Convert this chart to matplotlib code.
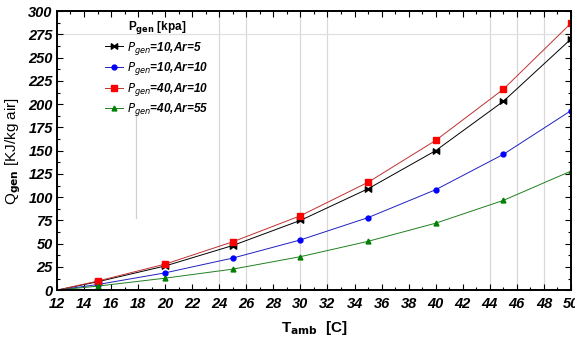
import matplotlib
matplotlib.use("Agg")
import matplotlib.pyplot as plt
from matplotlib.ticker import MultipleLocator

plt.rcParams['font.family'] = ['Liberation Sans', 'DejaVu Sans']

# ambient temperature [C]
t_amb = [12, 15, 20, 25, 30, 35, 40, 45, 50]

# Q_gen [kJ/kg air] for each case
q_10_5 = [0, 9, 26, 48, 75, 109, 150, 203, 270]
q_10_10 = [0, 6, 18.6, 34.5, 54, 78, 108, 146, 193]
q_40_10 = [0, 9.7, 28, 52, 80, 116, 161, 216, 287]
q_40_55 = [0, 4.3, 12.9, 22.6, 36, 52.5, 72, 96.5, 128]

labels = [r'$P_{gen}$=10,Ar=5', r'$P_{gen}$=10,Ar=10',
          r'$P_{gen}$=40,Ar=10', r'$P_{gen}$=40,Ar=55']

fig = plt.figure(figsize=(5.75, 3.37), dpi=100)
ax = fig.add_axes([0.099, 0.139, 0.894, 0.828])

# faint vertical/horizontal lines seen in the original
for xv in [24, 26, 30, 32, 44, 46, 48]:
    ax.axvline(xv, color='#d8d8d8', lw=0.9, zorder=0)
ax.axhline(275, color='#e0e0e0', lw=0.9, zorder=0)
ax.plot([17.85, 17.85], [78, 190], color='#d0d0d0', lw=0.9, zorder=0)

pts = list(range(1, len(t_amb)))
ax.plot(t_amb, q_10_5, color='black', lw=0.7, marker=r'$\bowtie$', ms=4.5,
        markevery=pts, label=labels[0])
ax.plot(t_amb, q_10_10, color='#2020c0', lw=0.7, marker='o', ms=3.5,
        mfc='blue', mec='blue', markevery=pts, label=labels[1])
ax.plot(t_amb, q_40_10, color='#c03030', lw=0.7, marker='s', ms=4.5,
        mfc='red', mec='red', markevery=pts, label=labels[2])
ax.plot(t_amb, q_40_55, color='#208020', lw=0.7, marker='^', ms=3.5,
        mfc='green', mec='green', markevery=pts, label=labels[3])

ax.set_xlim(12, 50)
ax.set_ylim(0, 300)
ax.xaxis.set_major_locator(MultipleLocator(2))
ax.xaxis.set_minor_locator(MultipleLocator(1))
ax.yaxis.set_major_locator(MultipleLocator(25))
ax.yaxis.set_minor_locator(MultipleLocator(12.5))
ax.tick_params(which='both', direction='in', top=True, right=True, width=0.8)
ax.tick_params(which='major', length=4)
ax.tick_params(which='minor', length=2)
ax.tick_params(axis='x', pad=5)
ax.tick_params(axis='y', pad=3)
for lab in ax.get_xticklabels() + ax.get_yticklabels():
    lab.set_fontweight('bold')
    lab.set_fontstyle('italic')
    lab.set_fontsize(10.5)
for sp in ax.spines.values():
    sp.set_linewidth(1.4)

ax.set_xlabel(r'T$_{\mathbf{amb}}$  [C]', fontsize=11, fontweight='bold', labelpad=6)
ax.set_ylabel(r'Q$_{\mathbf{gen}}$ [KJ/kg air]', fontsize=11, labelpad=4)

leg = ax.legend(loc='upper left', bbox_to_anchor=(0.075, 1.005), frameon=False,
                title=r'P$_{\mathbf{gen}}$ [kpa]', handlelength=1.5, handletextpad=0.4,
                labelspacing=0.3, borderpad=0.3,
                prop={'style': 'italic', 'weight': 'bold', 'size': 8.5})
leg.get_title().set_fontsize(8.5)
leg.get_title().set_fontweight('bold')

fig.savefig('out.png', dpi=100)
